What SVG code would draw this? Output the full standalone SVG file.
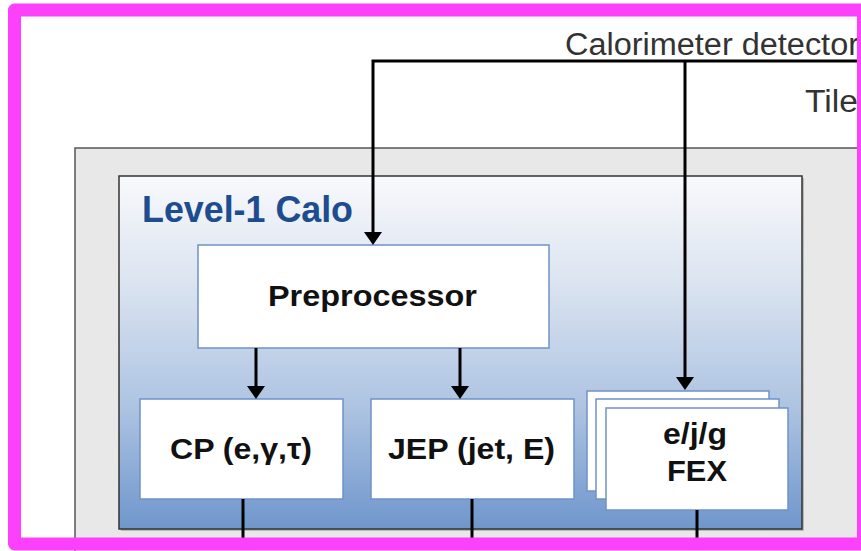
<svg xmlns="http://www.w3.org/2000/svg" width="861" height="551" viewBox="0 0 861 551">
  <defs>
    <linearGradient id="caloFill" x1="0" y1="0" x2="0" y2="1">
      <stop offset="0" stop-color="#f8f9fc"/>
      <stop offset="0.3" stop-color="#dbe4f0"/>
      <stop offset="0.65" stop-color="#aec4e2"/>
      <stop offset="1" stop-color="#6f96cc"/>
    </linearGradient>
    <marker id="arrow" viewBox="0 0 13 18" refX="3" refY="9" markerWidth="13" markerHeight="18" markerUnits="userSpaceOnUse" orient="auto">
      <path d="M0,0 L13,9 L0,18 Z" fill="#000"/>
    </marker>
  </defs>
  <style>
    .box { fill: #ffffff; stroke: #6f93c8; stroke-width: 1.5; }
    .lbl { font-family: "Liberation Sans", Arial, sans-serif; font-weight: bold; font-size: 29px; fill: #111; }
    .plain { font-family: "Liberation Sans", Arial, sans-serif; font-size: 31px; fill: #333; }
    .wire { fill: none; stroke: #000; stroke-width: 3; }
  </style>

  <rect x="0" y="0" width="861" height="551" fill="#ffffff"/>

  <!-- trigger system frame -->
  <g id="trigger-frame">
    <rect x="75" y="148" width="800" height="420" fill="#e8e8e8" stroke="#555" stroke-width="1.5"/>
  </g>

  <!-- Level-1 Calo container -->
  <g id="level1-calo">
    <rect x="121" y="178" width="683" height="353" fill="#8a8a8a" opacity="0.5"/>
    <rect x="119" y="176" width="683" height="353" fill="url(#caloFill)" stroke="#333" stroke-width="1.5"/>
    <text x="142" y="222" font-family="'Liberation Sans', Arial, sans-serif" font-weight="bold" font-size="36" fill="#1d4c8f" textLength="211" lengthAdjust="spacingAndGlyphs">Level-1 Calo</text>
  </g>

  <g id="preprocessor">
    <rect class="box" x="198" y="245" width="351" height="103"/>
    <text class="lbl" x="268" y="306" font-size="30" textLength="209" lengthAdjust="spacingAndGlyphs">Preprocessor</text>
  </g>

  <g id="cp">
    <rect class="box" x="140" y="399" width="203" height="100"/>
    <text class="lbl" x="170" y="459" textLength="142" lengthAdjust="spacingAndGlyphs">CP (e,γ,τ)</text>
  </g>

  <g id="jep">
    <rect class="box" x="371" y="399" width="203" height="100"/>
    <text class="lbl" x="388" y="459" textLength="167" lengthAdjust="spacingAndGlyphs">JEP (jet, E)</text>
  </g>

  <g id="fex">
    <rect class="box" x="587" y="391" width="182" height="100"/>
    <rect class="box" x="596" y="399" width="183" height="100"/>
    <rect class="box" x="606" y="408" width="182" height="102"/>
    <text class="lbl" x="663" y="444" textLength="64" lengthAdjust="spacingAndGlyphs">e/j/g</text>
    <text class="lbl" x="667" y="481" textLength="60" lengthAdjust="spacingAndGlyphs">FEX</text>
  </g>

  <g id="calorimeter-detector">
    <text class="plain" x="565" y="55" textLength="294" lengthAdjust="spacingAndGlyphs">Calorimeter detector</text>
    <text class="plain" x="805" y="112" textLength="53" lengthAdjust="spacingAndGlyphs">Tile</text>
  </g>

  <!-- connectors -->
  <g id="connectors">
    <path class="wire" d="M861,61 H373 V235" marker-end="url(#arrow)"/>
    <path class="wire" d="M685,61 V380" marker-end="url(#arrow)"/>
    <path class="wire" d="M256,348 V389" marker-end="url(#arrow)"/>
    <path class="wire" d="M460,348 V389" marker-end="url(#arrow)"/>
    <path class="wire" d="M243,499 V545"/>
    <path class="wire" d="M472,499 V545"/>
    <path class="wire" d="M697,510 V545"/>
  </g>

  <!-- highlight frame -->
  <rect x="14.5" y="10" width="849" height="534" fill="none" stroke="#fc40fc" stroke-width="13" stroke-linejoin="round"/>
</svg>
